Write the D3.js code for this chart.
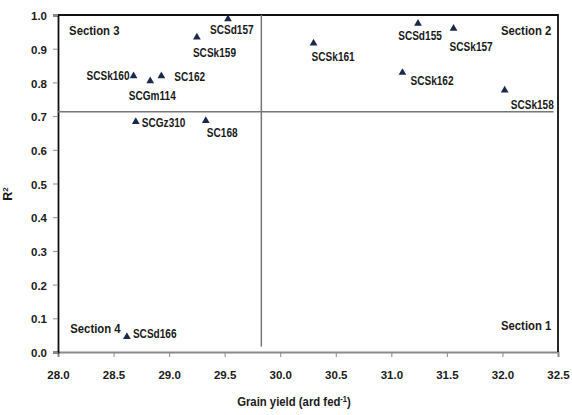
<!DOCTYPE html>
<html>
<head>
<meta charset="utf-8">
<script src="https://cdn.jsdelivr.net/npm/d3@7"></script>
<style>
  body { margin: 0; background: #fff; }
  text { font-family: "Liberation Sans", Arial, sans-serif; font-weight: bold; fill: #1a1a1a; }
  .tick text { font-size: 11.5px; }
</style>
</head>
<body>
<svg id="chart" width="572" height="415"></svg>
<script>
// hybrids, grain yield (ard fed-1) and R2
var hybrids = ["SCSd157", "SCSk159", "SCSk160", "SCGm114", "SC162", "SCGz310", "SC168",
               "SCSk161", "SCSd155", "SCSk157", "SCSk162", "SCSk158", "SCSd166"];
var grainYield = [29.53, 29.25, 28.68, 28.83, 28.93, 28.70, 29.33,
                  30.30, 31.24, 31.56, 31.10, 32.02, 28.62];
var rSquared = [0.988, 0.934, 0.819, 0.804, 0.819, 0.683, 0.686,
                0.916, 0.975, 0.960, 0.829, 0.777, 0.045];
var xTicks = [28.0, 28.5, 29.0, 29.5, 30.0, 30.5, 31.0, 31.5, 32.0, 32.5];
var yTicks = [0.0, 0.1, 0.2, 0.3, 0.4, 0.5, 0.6, 0.7, 0.8, 0.9, 1.0];
var meanYield = 29.83, meanR2 = 0.713;
var sections = ["Section 1", "Section 2", "Section 3", "Section 4"];

// where each label sits relative to its marker
var labelPos = {
    "SCSd157": [-18, 15, "start"], "SCSk159": [-4, 20, "start"], "SCSk160": [-4, 4, "end"],
    "SCGm114": [2, 19, "middle"], "SC162": [13, 5, "start"], "SCGz310": [6, 5, "start"],
    "SC168": [1, 16, "start"], "SCSk161": [-2, 18, "start"], "SCSd155": [2, 17, "middle"],
    "SCSk157": [-4, 23, "start"], "SCSk162": [8, 12, "start"], "SCSk158": [6, 19, "start"],
    "SCSd166": [6, 1, "start"]
};

// condensed look: squeeze text horizontally around its anchor
var squeeze = 0.84;
function narrow(sel, fx, fy) {
    sel.attr("transform", function (d, i) {
        return "translate(" + fx(d, i) + "," + fy(d, i) + ") scale(" + squeeze + ",1)";
    });
}

var svg = d3.select("#chart");
var margin = {left: 58, top: 15, right: 14, bottom: 63};
var width = 572 - margin.left - margin.right,
    height = 415 - margin.top - margin.bottom;

var x = d3.scaleLinear().domain([28, 32.5]).range([0, width]);
var y = d3.scaleLinear().domain([0, 1]).range([height, 0]);

var g = svg.append("g").attr("transform", "translate(" + margin.left + "," + margin.top + ")");

// axes
var xAxis = g.append("g")
    .attr("transform", "translate(0," + height + ")")
    .call(d3.axisBottom(x).tickValues(xTicks).tickFormat(d3.format(".1f")).tickSize(5).tickPadding(14));
xAxis.select(".domain").attr("stroke", "#8a8a8a").attr("stroke-width", 2);
xAxis.selectAll(".tick line").attr("stroke", "#8a8a8a");

var yAxis = g.append("g")
    .call(d3.axisLeft(y).tickValues(yTicks).tickFormat(d3.format(".1f")).tickSize(5).tickPadding(6));
yAxis.select(".domain").attr("stroke", "#111").attr("stroke-width", 1.8);
yAxis.selectAll(".tick line").attr("stroke", "#8a8a8a");
yAxis.selectAll(".tick text").attr("dy", "0.4em");

// frame top and right
g.append("path")
    .attr("d", "M0,0H" + width + "V" + height)
    .attr("fill", "none").attr("stroke", "#111").attr("stroke-width", 1.8);

// dividing lines
g.append("line")
    .attr("x1", x(meanYield)).attr("x2", x(meanYield))
    .attr("y1", 0).attr("y2", y(0.016))
    .attr("stroke", "#777").attr("stroke-width", 1.5);
g.append("line")
    .attr("x1", 0).attr("x2", x(32.46))
    .attr("y1", y(meanR2)).attr("y2", y(meanR2))
    .attr("stroke", "#777").attr("stroke-width", 1.5);

// section names
var secPos = [[x(32.44), y(0.065), "end"], [x(32.44), y(0.942), "end"],
              [x(28.1), y(0.94), "start"], [x(28.11), y(0.055), "start"]];
g.selectAll(".section")
    .data(sections)
    .enter()
    .append("text")
    .attr("class", "section")
    .attr("text-anchor", function (d, i) { return secPos[i][2]; })
    .style("font-size", "13.5px")
    .text(function (d) { return d; })
    .call(narrow, function (d, i) { return secPos[i][0]; }, function (d, i) { return secPos[i][1]; });

// markers
var tri = d3.symbol().type(d3.symbolTriangle).size(26);
g.selectAll(".pt")
    .data(hybrids)
    .enter()
    .append("path")
    .attr("class", "pt")
    .attr("d", tri)
    .attr("transform", function (d, i) {
        return "translate(" + x(grainYield[i]) + "," + y(rSquared[i]) + ")";
    })
    .attr("fill", "#1c2a4a");

g.selectAll(".lbl")
    .data(hybrids)
    .enter()
    .append("text")
    .attr("class", "lbl")
    .attr("text-anchor", function (d) { return labelPos[d][2]; })
    .style("font-size", "12px")
    .text(function (d) { return d; })
    .call(narrow,
        function (d, i) { return x(grainYield[i]) + labelPos[d][0]; },
        function (d, i) { return y(rSquared[i]) + labelPos[d][1]; });

// axis titles
var xt = svg.append("text")
    .attr("transform", "translate(294,406) scale(" + squeeze + ",1)")
    .attr("text-anchor", "middle")
    .style("font-size", "13.5px")
    .text("Grain yield (ard fed");
xt.append("tspan").attr("dy", -4).style("font-size", "9px").text("-1");
xt.append("tspan").attr("dy", 4).text(")");

var yt = svg.append("text")
    .attr("transform", "translate(12,194) rotate(-90)")
    .attr("text-anchor", "middle")
    .style("font-size", "12.5px")
    .text("R");
yt.append("tspan").attr("dy", -4).style("font-size", "8px").text("2");
</script>
</body>
</html>
